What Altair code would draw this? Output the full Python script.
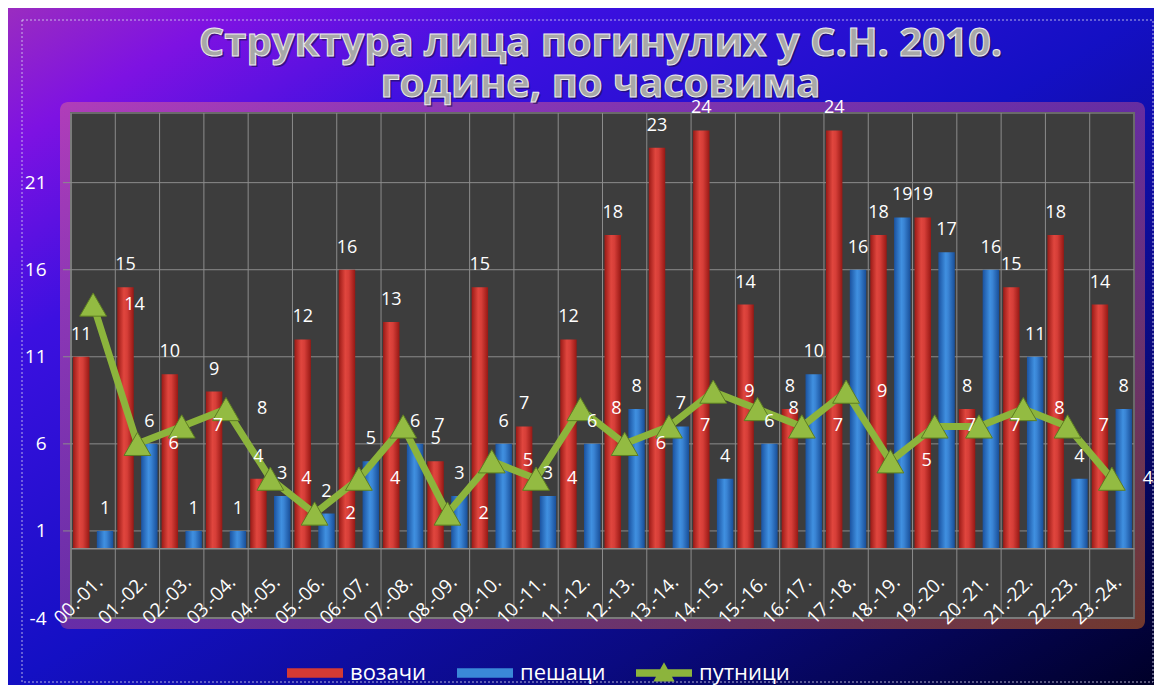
import altair as alt
import pandas as pd

# ---------------- data ----------------
HOURS = ["00.-01.", "01.-02.", "02.-03.", "03.-04.", "04.-05.", "05.-06.",
         "06.-07.", "07.-08.", "08.-09.", "09.-10.", "10.-11.", "11.-12.",
         "12.-13.", "13.-14.", "14.-15.", "15.-16.", "16.-17.", "17.-18.",
         "18.-19.", "19.-20.", "20.-21.", "21.-22.", "22.-23.", "23.-24."]
VOZACI = [11, 15, 10, 9, 4, 12, 16, 13, 5, 15, 7, 12, 18, 23, 24, 14, 8, 24, 18, 19, 8, 15, 18, 14]
PESACI = [1, 6, 1, 1, 3, 2, 5, 6, 3, 6, 3, 6, 8, 7, 4, 6, 10, 16, 19, 17, 16, 11, 4, 8]
PUTNICI = [14, 6, 7, 8, 4, 2, 4, 7, 2, 5, 4, 8, 6, 7, 9, 8, 7, 9, 5, 7, 7, 8, 7, 4]
SERIES = ["возачи", "пешаци", "путници"]
Y_TICKS = [-4, 1, 6, 11, 16, 21]
Y_MAX = 25
TITLE_LINES = ["Структура лица погинулих у С.Н. 2010.", "године, по часовима"]

# ---------------- layout ----------------
W, H = 1063, 505
PAD = {"left": 63, "top": 105, "right": 20, "bottom": 67}
Y_MIN = min(Y_TICKS)
ZERO_OFFSET = H * (Y_MAX - 0) / (Y_MAX - Y_MIN) - H
FONT = "Open Sans"

red_df = pd.DataFrame({"cat": HOURS, "v": VOZACI, "series": SERIES[0]})
blue_df = pd.DataFrame({"cat": HOURS, "v": PESACI, "series": SERIES[1]})
green_df = pd.DataFrame({"cat": HOURS, "v": PUTNICI, "series": SERIES[2]})
grid_df = pd.DataFrame({"t": Y_TICKS})
cat_df = pd.DataFrame({"cat": HOURS})
legend_df = pd.DataFrame({"series": SERIES, "v": [Y_MIN - 1000] * 3})
title_df = pd.DataFrame({"t": ["\n".join(TITLE_LINES)]})
one = pd.DataFrame({"a": [0]})

xscale = alt.Scale(domain=HOURS, paddingInner=0, paddingOuter=0)
yscale = alt.Scale(domain=[Y_MIN, Y_MAX], nice=False, zero=False)
offscale = alt.Scale(domain=SERIES[:2], paddingInner=0.31, paddingOuter=0.085)

xaxis = alt.Axis(title=None, labelAngle=-45, labelColor="white", labelFont=FONT,
                 labelFontSize=19, ticks=False, domain=True, domainColor="#8c8c8c",
                 domainWidth=1.5, labelPadding=24, offset=ZERO_OFFSET, zindex=1,
                 grid=False, labelAlign="right", labelBaseline="top")
yaxis = alt.Axis(title=None, values=Y_TICKS, grid=False, ticks=False, domain=False,
                 labelColor="white", labelFont=FONT, labelFontSize=19,
                 labelPadding=25, zindex=1,
                 labelExpr="replace(datum.label, '\u2212', '-')")

X = lambda **kw: alt.X("cat:N", scale=xscale, axis=xaxis, **kw)
Y = lambda f="v": alt.Y(f + ":Q", scale=yscale, axis=yaxis)
XO = alt.XOffset("series:N", scale=offscale)


def grad(stops, x1=0, y1=0, x2=1, y2=0):
    return alt.Gradient(gradient="linear", x1=x1, y1=y1, x2=x2, y2=y2,
                        stops=[alt.GradientStop(offset=o, color=c) for o, c in stops])


BG = grad([(0, "#9a2cc0"), (0.1, "#7e12e2"), (0.25, "#3c10e0"), (0.5, "#1410c4"),
           (0.75, "#0a0a80"), (1, "#000028")], 0, 0, 1, 1)
GLOW = grad([(0, "#c450a8"), (0.5, "#8a3a9a"), (1, "#a05028")], 0, 0, 1, 1)
RED = grad([(0, "#9a1a16"), (0.4, "#e0463e"), (0.6, "#d63e38"), (1, "#961814")])
BLUE = grad([(0, "#1a52a0"), (0.45, "#4090e0"), (0.6, "#3a84d4"), (1, "#184e98")])

bg = alt.Chart(one).mark_rect(fill=BG).encode(
    x=alt.value(-PAD["left"]), x2=alt.value(W + PAD["right"]),
    y=alt.value(-PAD["top"]), y2=alt.value(H + PAD["bottom"]))
dotted = alt.Chart(one).mark_rect(fillOpacity=0, stroke="#d8d8f0", strokeWidth=1,
                                  strokeDash=[2, 2], strokeOpacity=0.8).encode(
    x=alt.value(-49), x2=alt.value(W + 19), y=alt.value(-93), y2=alt.value(H + 64))
glow = alt.Chart(one).mark_rect(fill=GLOW, opacity=0.7, cornerRadius=8).encode(
    x=alt.value(-11), x2=alt.value(W + 11), y=alt.value(-11), y2=alt.value(H + 11))
plotbg = alt.Chart(one).mark_rect(fill="#3d3d3d", stroke="#6a6a6a", strokeWidth=2).encode(
    x=alt.value(0), x2=alt.value(W), y=alt.value(0), y2=alt.value(H))

hgrid = alt.Chart(grid_df).mark_rule(color="#8c8c8c", strokeWidth=1).encode(
    y=Y("t"), x=alt.value(-8), x2=alt.value(W))
vgrid = alt.Chart(cat_df).mark_rule(color="#8c8c8c", strokeWidth=1).encode(
    x=X(bandPosition=0), y=alt.value(0), y2=alt.value(H))

red = alt.Chart(red_df).mark_bar(fill=RED).encode(x=X(), xOffset=XO, y=Y(), y2=alt.datum(0))
blue = alt.Chart(blue_df).mark_bar(fill=BLUE).encode(x=X(), xOffset=XO, y=Y(), y2=alt.datum(0))

line = alt.Chart(green_df).mark_line(color="#8cb43c", strokeWidth=7).encode(x=X(), y=Y())
tri = alt.Chart(green_df).mark_point(shape="triangle-up", filled=True, size=720,
                                     fill="#93bb42", stroke="#5d7d22", strokeWidth=1,
                                     opacity=1).encode(x=X(), y=Y())

lab_style = dict(font=FONT, fontSize=18, color="white", baseline="middle")
red_lab = alt.Chart(red_df).mark_text(dy=-22, **lab_style).encode(
    x=X(), xOffset=XO, y=Y(), text="v:Q")
blue_lab = alt.Chart(blue_df).mark_text(dy=-22, **lab_style).encode(
    x=X(), xOffset=XO, y=Y(), text="v:Q")
green_lab = alt.Chart(green_df).mark_text(dx=31, align="left", **lab_style).encode(
    x=X(), y=Y(), text="v:Q")

title_shadow = alt.Chart(title_df).mark_text(
    lineBreak="\n", font=FONT, fontSize=40, fontWeight="bold", fill="#1a1040",
    opacity=0.55, align="center", baseline="alphabetic", lineHeight=41, dx=2, dy=2
).encode(text="t:N", x=alt.value(W / 2 - 2), y=alt.value(-57))
title = alt.Chart(title_df).mark_text(
    lineBreak="\n", font=FONT, fontSize=40, fontWeight="bold", fill="#a8a8a8",
    stroke="#ececec", strokeWidth=1, align="center", baseline="alphabetic", lineHeight=41
).encode(text="t:N", x=alt.value(W / 2 - 2), y=alt.value(-57))

BAR_PATH = "M-1,-0.17H1V0.17H-1Z"
LINE_PATH = "M-1,-0.13H1V0.13H-1Z M0,-0.38L0.38,0.3H-0.38Z"
leg = alt.Legend(title=None, orient="none", legendX=216, legendY=532, direction="horizontal",
                 symbolSize=3136, symbolStrokeWidth=0, labelColor="white", labelFont=FONT,
                 labelFontSize=22, labelOffset=7, columnPadding=30)
legend_layer = alt.Chart(legend_df).mark_point(filled=True, clip=True, opacity=1).encode(
    y=Y(),
    color=alt.Color("series:N", scale=alt.Scale(domain=SERIES, range=["#d43a34", "#3a88d8", "#8cb43c"]), legend=leg),
    shape=alt.Shape("series:N", scale=alt.Scale(domain=SERIES, range=[BAR_PATH, BAR_PATH, LINE_PATH]), legend=leg),
)

chart = alt.layer(
    bg, dotted, glow, plotbg, hgrid, vgrid, red, blue, line, tri,
    red_lab, blue_lab, green_lab, title_shadow, title, legend_layer
).properties(
    width=W, height=H,
    autosize=alt.AutoSizeParams(type="none"),
    padding=PAD,
    background="#1410c4",
).configure_view(stroke=None)

chart.save("out.html", embed_options={"renderer": "svg", "actions": False})
